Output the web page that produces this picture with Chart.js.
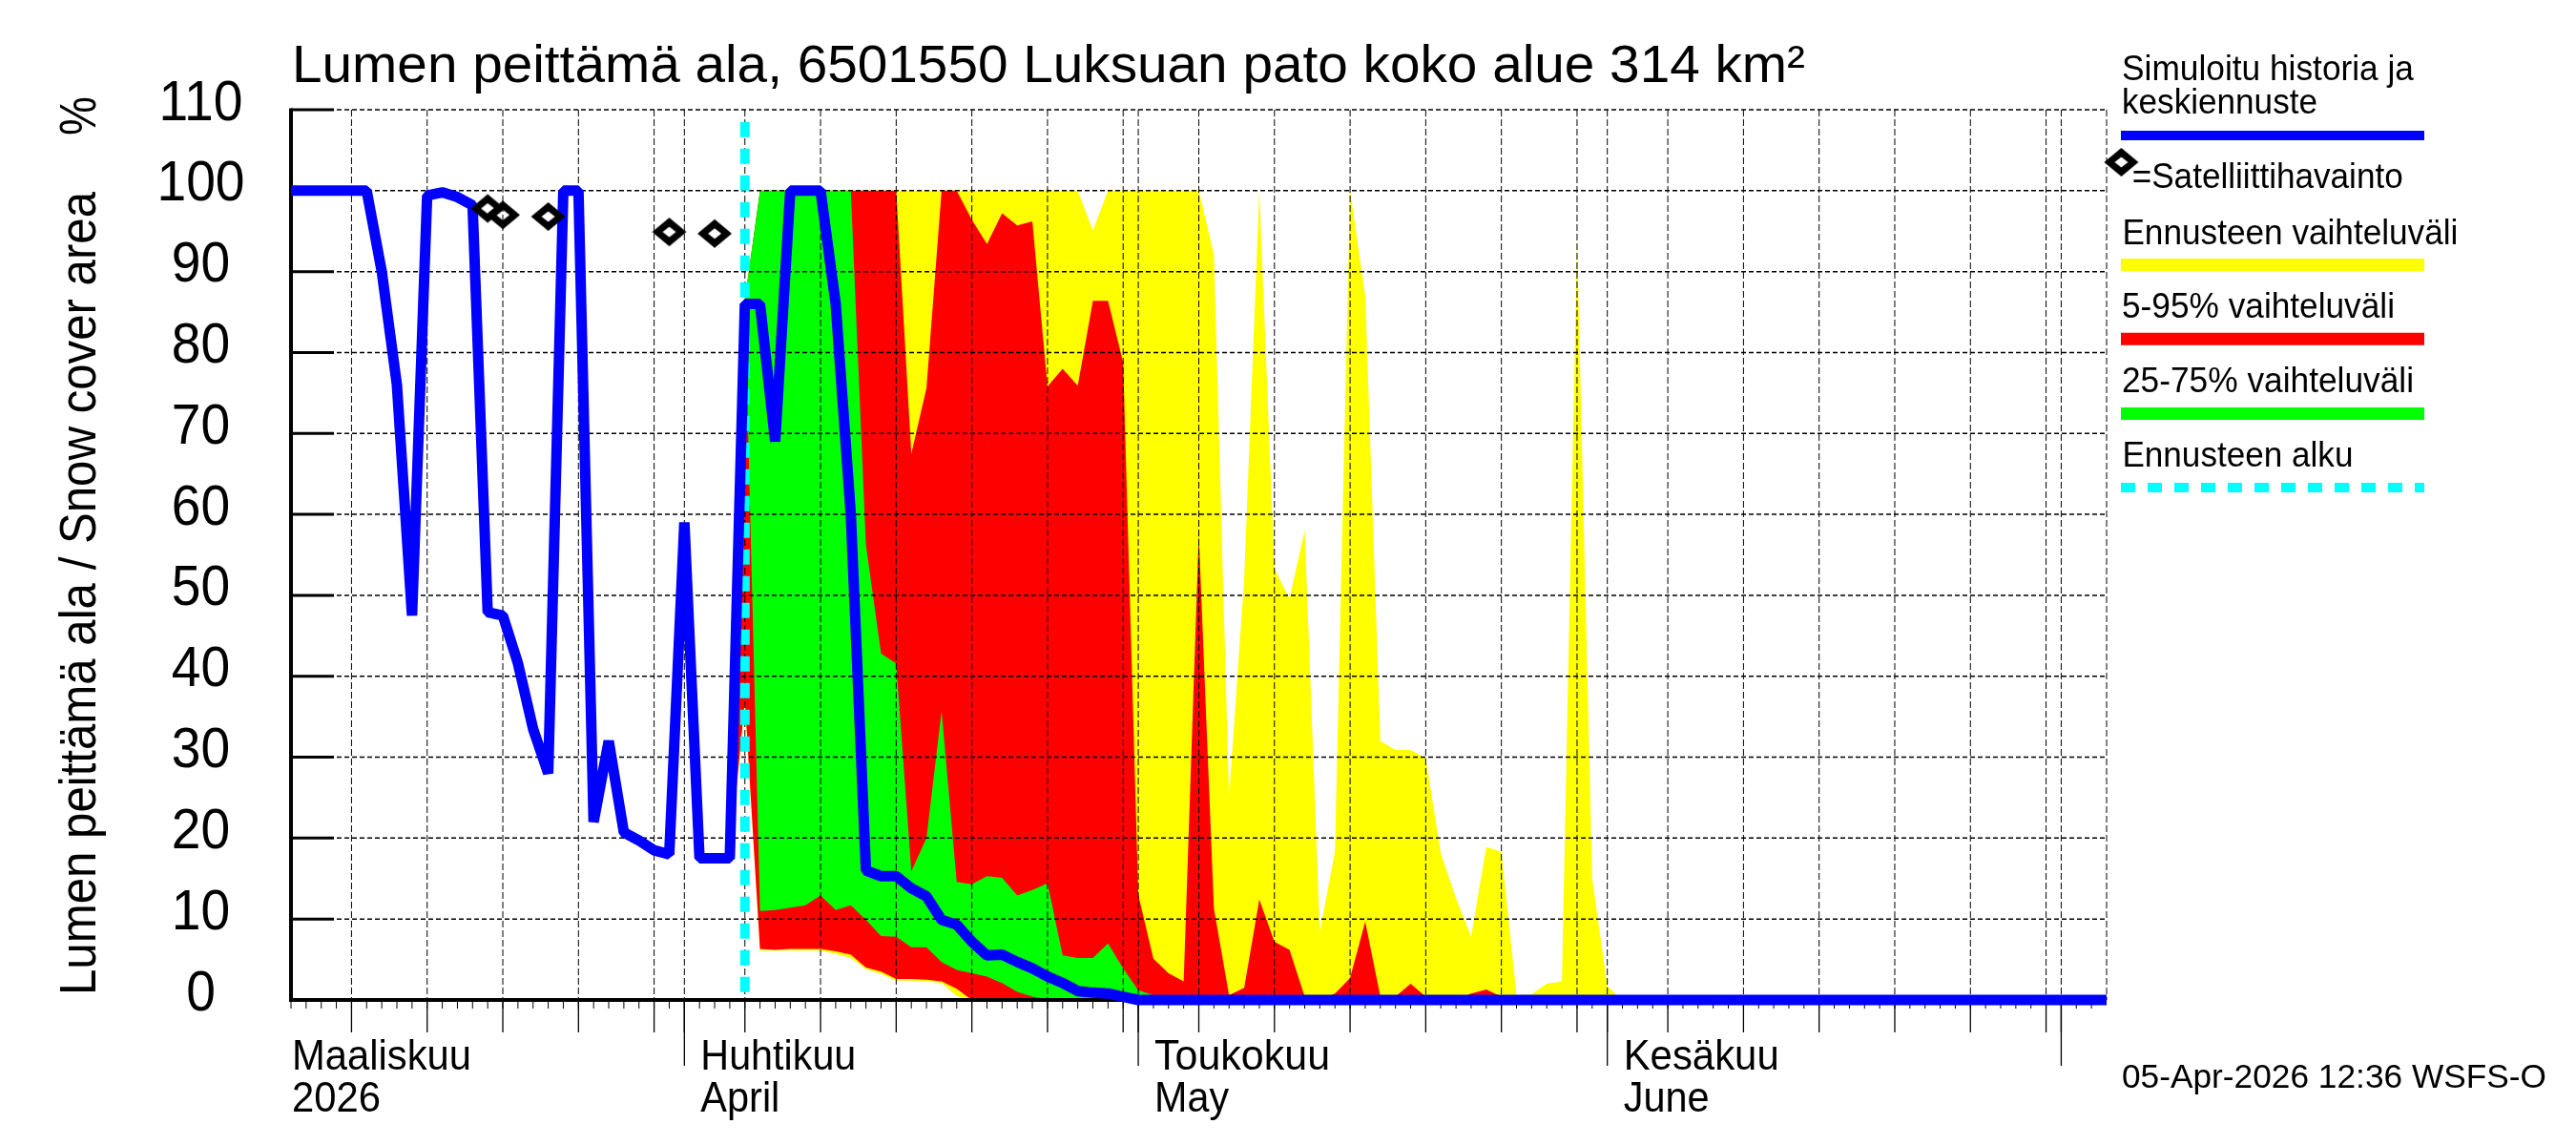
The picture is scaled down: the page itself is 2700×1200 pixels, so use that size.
<!DOCTYPE html>
<html>
<head>
<meta charset="utf-8">
<title>Lumen peittämä ala</title>
<script src="https://cdn.jsdelivr.net/npm/chart.js@4/dist/chart.umd.min.js"></script>
<style>
    html, body { margin: 0; padding: 0; background: #fff; }
    canvas { display: block; }
</style>
</head>
<body>
<canvas id="snowChart" width="2700" height="1200"></canvas>
<script>
// Day numbers count from 6 March 2026 (day 0) to 4 July 2026 (day 120)
const simulated = [
    100, 100, 100, 100, 100, 100, 90, 76, 47.5, 99.4,
    99.8, 99.2, 98.2, 47.9, 47.5, 41.6, 33.5, 28, 100, 100,
    22, 32, 20.7, 19.7, 18.5, 18, 59, 17.5, 17.5, 17.5,
    86, 86, 69, 100, 100, 100, 86, 60, 16, 15.3,
    15.3, 13.8, 12.8, 9.9, 9.3, 7.2, 5.5, 5.6, 4.7, 3.9,
    2.9, 2.1, 1.1, 0.9, 0.8, 0.4, 0, 0, 0, 0,
    0, 0, 0, 0, 0, 0, 0, 0, 0, 0,
    0, 0, 0, 0, 0, 0, 0, 0, 0, 0,
    0, 0, 0, 0, 0, 0, 0, 0, 0, 0,
    0, 0, 0, 0, 0, 0, 0, 0, 0, 0,
    0, 0, 0, 0, 0, 0, 0, 0, 0, 0,
    0, 0, 0, 0, 0, 0, 0, 0, 0, 0,
    0
];

// Forecast bands run from day 29 to day 90
const bandFirstDay = 29;
const yellowHigh = [
    17.5,
    86.5, 100, 100, 100, 100, 100, 100, 100, 100, 100,
    100, 100, 100, 100, 100, 100, 100, 100, 100, 100,
    100, 100, 100, 95.1, 100, 100, 100, 100, 100, 100,
    100, 92.1, 25, 52, 100, 53.3, 49.6, 58, 8.4, 18.4,
    100, 87, 32, 30.9, 30.9, 29.9, 18.1, 12.6, 7.8, 18.9,
    18.3, 0.6, 0.7, 2, 2.3, 93.9, 15, 1.7, 0, 0,
    0
];
const yellowLow = [
    17.5,
    36.5, 6.1, 6.1, 6.1, 6.1, 6.1, 5.7, 5.2, 3.8, 3.2,
    2.4, 2.4, 2.3, 2.1, 0.5, 0, 0, 0, 0, 0,
    0, 0, 0, 0, 0, 0, 0, 0, 0, 0,
    0, 0, 0, 0, 0, 0, 0, 0, 0, 0,
    0, 0, 0, 0, 0, 0, 0, 0, 0, 0,
    0, 0, 0, 0, 0, 0, 0, 0, 0, 0,
    0
];
const redHigh = [
    17.5,
    86.5, 100, 100, 100, 100, 100, 100, 100, 100, 100,
    100, 67.5, 75.6, 100, 100, 96.4, 93.4, 97.2, 95.7, 96.2,
    75.8, 78, 75.9, 86.4, 86.4, 78.8, 13, 5.1, 3.3, 2.3,
    57.6, 11.3, 0.6, 1.5, 12.4, 7.2, 6.2, 0.4, 0, 0.8,
    2.7, 9.7, 0.4, 0.4, 2, 0.4, 0, 0, 0.8, 1.3,
    0.4, 0, 0, 0, 0, 0, 0, 0, 0, 0,
    0
];
const redLow = [
    17.5,
    37, 6.3, 6.2, 6.3, 6.3, 6.3, 6, 5.6, 4, 3.5,
    2.6, 2.6, 2.5, 2.3, 1.4, 0, 0, 0, 0, 0,
    0, 0, 0, 0, 0, 0, 0, 0, 0, 0,
    0, 0, 0, 0, 0, 0, 0, 0, 0, 0,
    0, 0, 0, 0, 0, 0, 0, 0, 0, 0,
    0, 0, 0, 0, 0, 0, 0, 0, 0, 0,
    0
];
const greenHigh = [
    17.5,
    86.5, 100, 100, 100, 100, 100, 100, 100, 56.2, 42.8,
    41.6, 15.9, 20, 35.7, 14.6, 14.3, 15.3, 15.1, 12.9, 13.6,
    14.4, 5.5, 5.2, 5.2, 7, 3.9, 1.2, 0.6, 0, 0,
    0, 0, 0, 0, 0, 0, 0, 0, 0, 0,
    0, 0, 0, 0, 0, 0, 0, 0, 0, 0,
    0, 0, 0, 0, 0, 0, 0, 0, 0, 0,
    0
];
const greenLow = [
    17.5,
    86.5, 11, 11.1, 11.4, 11.7, 12.9, 11.1, 11.7, 9.9, 7.9,
    7.8, 6.5, 6.5, 4.7, 3.7, 3.3, 2.9, 2.1, 1, 0.4,
    0.1, 0, 0, 0, 0, 0, 0, 0, 0, 0,
    0, 0, 0, 0, 0, 0, 0, 0, 0, 0,
    0, 0, 0, 0, 0, 0, 0, 0, 0, 0,
    0, 0, 0, 0, 0, 0, 0, 0, 0, 0,
    0
];

// Satellite observations
const satelliteDays = [13, 14, 17, 25, 28];
const satelliteValues = [97.8, 97, 96.8, 94.9, 94.7];

// Forecast start line
const forecastStartDay = 30;
const forecastLineValues = [108.5, 0];

// Axis ticks
const yTickStep = 10;
const gridDays = [4, 9, 14, 19, 24, 26, 30, 35, 40, 45, 50, 55, 56, 60, 65, 70, 75, 80, 85, 87, 91, 96, 101, 106, 111, 116, 117, 120];
const monthStartDays = [26, 56, 87, 117];
const lastDay = 120;

const monthLabelDays = [0, 26, 56, 87];
const monthLabelsFi = ['Maaliskuu', 'Huhtikuu', 'Toukokuu', 'Kesäkuu'];
const monthLabelsEn = ['2026', 'April', 'May', 'June'];

const titleText = 'Lumen peittämä ala, 6501550 Luksuan pato koko alue 314 km²';
const yAxisText = 'Lumen peittämä ala / Snow cover area';
const stampText = '05-Apr-2026 12:36 WSFS-O';

const FONT = '"Liberation Sans", Arial, sans-serif';

// Text squeezed to the width it has in the picture
function fitText(ctx, text, x, y, size, width) {
    ctx.save();
    ctx.font = `${size}px ${FONT}`;
    ctx.fillStyle = '#000';
    ctx.textAlign = 'left';
    ctx.textBaseline = 'alphabetic';
    ctx.translate(x, y);
    ctx.scale(width / ctx.measureText(text).width, 1);
    ctx.fillText(text, 0, 0);
    ctx.restore();
}

function hLine(ctx, x1, x2, y, width, color, dash) {
    ctx.lineWidth = width;
    ctx.strokeStyle = color;
    ctx.setLineDash(dash || []);
    ctx.beginPath();
    ctx.moveTo(x1, y);
    ctx.lineTo(x2, y);
    ctx.stroke();
}

function vLine(ctx, x, y1, y2, width, color, dash) {
    ctx.lineWidth = width;
    ctx.strokeStyle = color;
    ctx.setLineDash(dash || []);
    ctx.beginPath();
    ctx.moveTo(x, y1);
    ctx.lineTo(x, y2);
    ctx.stroke();
}

// Open diamond, a bit wider than tall, used as point style and in the legend
function makeDiamond() {
    const c = document.createElement('canvas');
    c.width = 38;
    c.height = 32;
    const g = c.getContext('2d');
    g.fillStyle = '#000';
    g.beginPath();
    g.moveTo(19, 1);
    g.lineTo(37, 16);
    g.lineTo(19, 31);
    g.lineTo(1, 16);
    g.closePath();
    g.moveTo(19, 10.5);
    g.lineTo(26, 16);
    g.lineTo(19, 21.5);
    g.lineTo(12, 16);
    g.closePath();
    g.fill('evenodd');
    return c;
}
const diamond = makeDiamond();

// Gridlines and axes go on top of the bands but under the lines
const gridPlugin = {
    id: 'gridOverBands',
    afterDatasetDraw(chart, args) {
        if (args.index !== 5) return;
        const ctx = chart.ctx;
        const xs = chart.scales.x;
        const ys = chart.scales.y;
        const area = chart.chartArea;
        ctx.save();
        ctx.lineCap = 'butt';

        ys.ticks.forEach(t => {
            const y = ys.getPixelForValue(t.value);
            if (t.value > 0) hLine(ctx, area.left, area.right, y, 1.5, '#000', [5, 3]);
            hLine(ctx, area.left, area.left + 45, y, 3, '#000');
        });
        gridDays.forEach(day => {
            vLine(ctx, xs.getPixelForValue(day), area.top, area.bottom, 1, '#000', [7, 3]);
        });

        vLine(ctx, area.left, area.top - 1.5, area.bottom + 2, 4, '#000');
        hLine(ctx, area.left, area.right, area.bottom, 4, '#000');

        // Ticks under the axis
        for (let day = 0; day < lastDay; day++) {
            vLine(ctx, xs.getPixelForValue(day), area.bottom, area.bottom + 9, 1, '#000');
        }
        gridDays.filter(day => day < lastDay).forEach(day => {
            vLine(ctx, xs.getPixelForValue(day), area.bottom, area.bottom + 34, 1.3, '#000');
        });
        monthStartDays.forEach(day => {
            vLine(ctx, xs.getPixelForValue(day), area.bottom, area.bottom + 69, 1.3, '#000');
        });
        ctx.restore();
    }
};

// Title, axis captions and the legend column
const textPlugin = {
    id: 'chartTexts',
    afterDraw(chart) {
        const ctx = chart.ctx;
        const xs = chart.scales.x;
        const ys = chart.scales.y;
        ctx.save();

        fitText(ctx, titleText, 306, 86, 55, 1586);

        // y tick labels are centred in their column
        ys.ticks.forEach(t => {
            const label = String(t.value);
            ctx.font = `60px ${FONT}`;
            const w = ctx.measureText(label).width * 0.92;
            fitText(ctx, label, 210.5 - w / 2, ys.getPixelForValue(t.value) + 10.5, 60, w);
        });

        ctx.save();
        ctx.translate(100, 1043);
        ctx.rotate(-Math.PI / 2);
        fitText(ctx, yAxisText, 0, 0, 54, 842);
        fitText(ctx, '%', 901, 0, 54, 41);
        ctx.restore();

        const fiWidths = [188, 163, 184, 163];
        const enWidths = [93, 83, 78, 90];
        monthLabelDays.forEach((day, i) => {
            const x = day === 0 ? xs.getPixelForValue(day) + 1 : xs.getPixelForValue(day) + 17;
            fitText(ctx, monthLabelsFi[i], x, 1121, 44.5, fiWidths[i]);
            fitText(ctx, monthLabelsEn[i], x, 1165, 44.5, enWidths[i]);
        });

        fitText(ctx, 'Simuloitu historia ja', 2224, 84, 36, 306);
        fitText(ctx, 'keskiennuste', 2224, 118.6, 36, 205);
        hLine(ctx, 2223, 2541, 142, 10, '#00f');

        ctx.drawImage(diamond, 2223.4 - 19, 170 - 16);
        fitText(ctx, '=Satelliittihavainto', 2234.7, 197, 36, 284);

        fitText(ctx, 'Ennusteen vaihteluväli', 2224.4, 255.6, 36, 352);
        hLine(ctx, 2223, 2541, 277.5, 13, '#ff0');
        fitText(ctx, '5-95% vaihteluväli', 2224, 333, 36, 286);
        hLine(ctx, 2223, 2541, 355.3, 13, '#f00');
        fitText(ctx, '25-75% vaihteluväli', 2224, 411, 36, 306);
        hLine(ctx, 2223, 2541, 433.5, 13, '#0f0');
        fitText(ctx, 'Ennusteen alku', 2224.4, 489, 36, 242);
        hLine(ctx, 2223, 2541, 511, 10, '#0ff', [15, 13]);

        fitText(ctx, stampText, 2224, 1140, 35.5, 445);
        ctx.restore();
    }
};

function bandPoints(values) {
    return values.map((v, i) => ({ x: bandFirstDay + i, y: v }));
}

function bandDataset(values, color, order, isUpper) {
    return {
        data: bandPoints(values),
        fill: isUpper ? '+1' : false,
        backgroundColor: color,
        borderColor: 'transparent',
        borderWidth: 0,
        pointRadius: 0,
        order: order
    };
}

Chart.defaults.font.family = FONT;

const ctx = document.getElementById('snowChart').getContext('2d');
new Chart(ctx, {
    type: 'line',
    data: {
        datasets: [
            bandDataset(yellowHigh, '#ffff00', 9, true),
            bandDataset(yellowLow, '#ffff00', 8, false),
            bandDataset(redHigh, '#ff0000', 7, true),
            bandDataset(redLow, '#ff0000', 6, false),
            bandDataset(greenHigh, '#00ff00', 5, true),
            bandDataset(greenLow, '#00ff00', 4, false),
            {
                data: forecastLineValues.map(v => ({ x: forecastStartDay, y: v })),
                borderColor: '#00ffff',
                borderWidth: 10,
                borderDash: [16, 12],
                pointRadius: 0,
                fill: false,
                clip: false,
                order: 2
            },
            {
                data: simulated.map((v, i) => ({ x: i, y: v })),
                borderColor: '#0000ff',
                borderWidth: 11,
                borderJoinStyle: 'bevel',
                pointRadius: 0,
                fill: false,
                tension: 0,
                clip: false,
                order: 1
            },
            {
                data: satelliteDays.map((d, i) => ({ x: d, y: satelliteValues[i] })),
                showLine: false,
                pointStyle: diamond,
                pointRadius: 14,
                fill: false,
                clip: false,
                order: 0
            }
        ]
    },
    options: {
        responsive: false,
        devicePixelRatio: 1,
        animation: false,
        layout: { padding: { left: 0, top: 115, right: 492, bottom: 152 } },
        plugins: { legend: { display: false }, title: { display: false }, tooltip: { enabled: false } },
        scales: {
            x: {
                type: 'linear',
                min: 0,
                max: lastDay,
                afterFit(scale) { scale.height = 0; },
                grid: { display: false, drawTicks: false },
                border: { display: false },
                ticks: { display: false }
            },
            y: {
                min: 0,
                max: 110,
                afterFit(scale) { scale.width = 305; },
                grid: { display: false, drawTicks: false },
                border: { display: false },
                ticks: { display: false, stepSize: yTickStep }
            }
        }
    },
    plugins: [gridPlugin, textPlugin]
});
</script>
</body>
</html>
